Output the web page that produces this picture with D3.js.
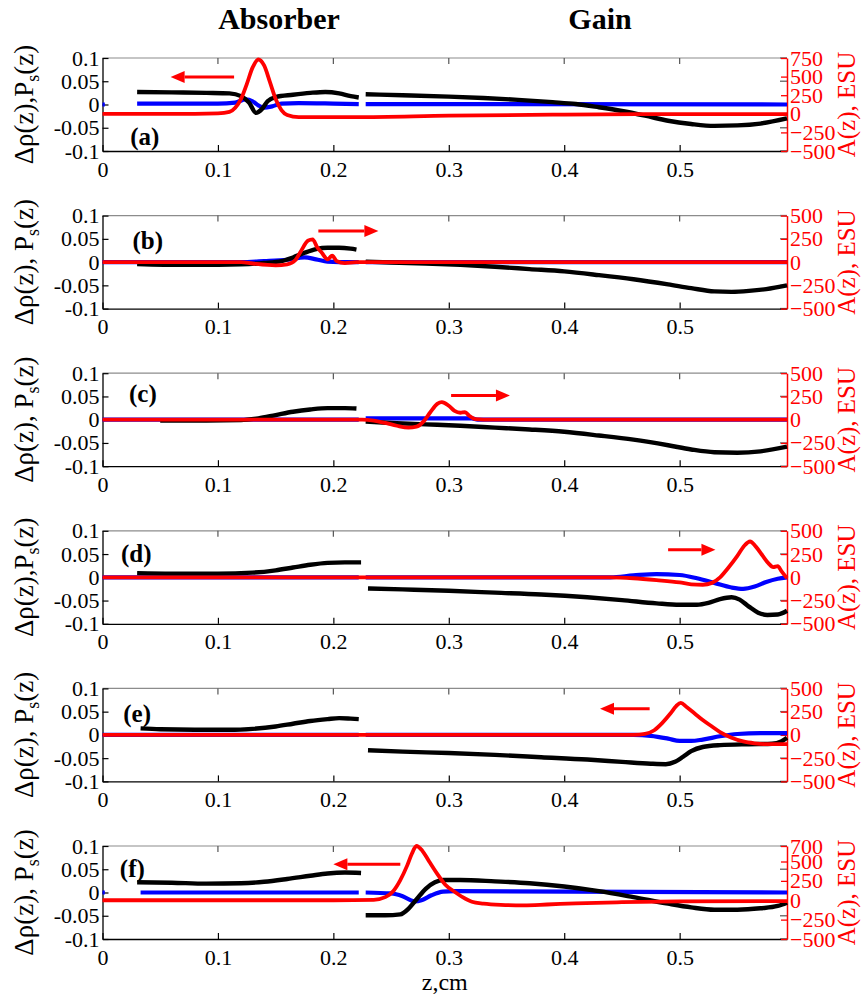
<!DOCTYPE html>
<html>
<head>
<meta charset="utf-8">
<script src="https://cdn.jsdelivr.net/npm/d3@7"></script>
</head>
<body style="margin:0;background:#fff">
<svg id="chart" width="864" height="995"></svg>
<script>
// ---- axis ticks -------------------------------------------------------
const zTicks = [0, 0.1, 0.2, 0.3, 0.4, 0.5];
const zTickLabels = ["0", "0.1", "0.2", "0.3", "0.4", "0.5"];
const leftTicks = [-0.1, -0.05, 0, 0.05, 0.1];
const leftTickLabels = ["-0.1", "-0.05", "0", "0.05", "0.1"];
const aTicks750 = [-500, -250, 0, 250, 500, 750];
const aTicks500 = [-500, -250, 0, 250, 500];
const aTicks700 = [-500, -250, 0, 250, 500, 700];

const panelNames = ["(a)", "(b)", "(c)", "(d)", "(e)", "(f)"];
const regionTitles = ["Absorber", "Gain"];

// ---- series: [z (cm), value]; null breaks the line ---------------------
// (a)
const rhoA = [[0.03,0.027],[0.06,0.026],[0.09,0.025],[0.11,0.024],[0.12,0.018],[0.127,0.004],[0.133,-0.018],[0.138,-0.01],[0.143,0.007],[0.15,0.016],[0.165,0.021],[0.18,0.025],[0.193,0.027],[0.205,0.024],[0.215,0.018],[0.222,0.015], null,
  [0.228,0.022],[0.26,0.02],[0.3,0.017],[0.33,0.014],[0.36,0.01],[0.39,0.005],[0.41,0.001],[0.43,-0.006],[0.45,-0.014],[0.47,-0.024],[0.49,-0.035],[0.51,-0.042],[0.53,-0.046],[0.55,-0.045],[0.57,-0.041],[0.593,-0.03]];
const psA = [[0,0],[0.002,0], null, [0.03,0.002],[0.1,0.002],[0.115,0.004],[0.124,0.011],[0.13,0.007],[0.135,-0.002],[0.14,-0.007],[0.147,-0.004],[0.155,0.002],[0.17,0.003],[0.2,0.002],[0.222,0.001], null,
  [0.228,0.001],[0.593,0]];
const ampA = [[0,0],[0.08,0],[0.1,5],[0.11,25],[0.115,80],[0.12,200],[0.125,400],[0.13,620],[0.135,730],[0.14,650],[0.145,430],[0.15,200],[0.155,50],[0.16,-15],[0.17,-45],[0.22,-45],[0.3,-25],[0.4,-10],[0.5,-5],[0.593,-5]];
// (b)
const rhoB = [[0.03,-0.004],[0.07,-0.006],[0.1,-0.006],[0.12,-0.005],[0.14,-0.002],[0.155,0.002],[0.165,0.01],[0.175,0.02],[0.185,0.028],[0.195,0.031],[0.205,0.031],[0.215,0.029],[0.22,0.027], null,
  [0.228,0.001],[0.25,-0.001],[0.28,-0.003],[0.31,-0.006],[0.34,-0.01],[0.37,-0.015],[0.4,-0.02],[0.43,-0.028],[0.46,-0.037],[0.49,-0.048],[0.51,-0.056],[0.53,-0.063],[0.545,-0.064],[0.56,-0.062],[0.575,-0.058],[0.593,-0.05]];
const psB = [[0,0],[0.12,0],[0.14,0.002],[0.16,0.005],[0.175,0.01],[0.185,0.006],[0.195,0.001],[0.205,0],[0.222,0], null, [0.228,0],[0.593,0]];
const ampB = [[0,0],[0.12,0],[0.13,-15],[0.15,-35],[0.16,-25],[0.167,20],[0.172,120],[0.178,230],[0.182,245],[0.186,160],[0.19,100],[0.195,30],[0.199,70],[0.203,10],[0.21,-10],[0.22,0],[0.593,0]];
// (c)
const rhoC = [[0.05,-0.002],[0.09,-0.002],[0.12,-0.001],[0.135,0.003],[0.15,0.01],[0.165,0.017],[0.18,0.022],[0.195,0.025],[0.21,0.025],[0.22,0.024], null,
  [0.228,-0.004],[0.25,-0.007],[0.28,-0.01],[0.31,-0.013],[0.34,-0.017],[0.37,-0.021],[0.4,-0.026],[0.43,-0.034],[0.46,-0.043],[0.49,-0.055],[0.51,-0.064],[0.53,-0.07],[0.55,-0.071],[0.57,-0.068],[0.593,-0.058]];
const psC = [[0,0],[0.222,0], null, [0.228,0.003],[0.32,0.003],[0.325,0],[0.593,0]];
const ampC = [[0,0],[0.225,0],[0.235,-10],[0.245,-35],[0.255,-65],[0.265,-85],[0.272,-75],[0.278,-20],[0.284,80],[0.29,170],[0.294,190],[0.3,150],[0.305,95],[0.31,75],[0.314,80],[0.318,40],[0.323,5],[0.33,0],[0.593,0]];
// (d)
const rhoD = [[0.03,0.009],[0.06,0.008],[0.1,0.008],[0.13,0.01],[0.15,0.015],[0.165,0.021],[0.18,0.027],[0.195,0.031],[0.21,0.032],[0.224,0.032], null,
  [0.23,-0.024],[0.26,-0.026],[0.3,-0.029],[0.34,-0.033],[0.38,-0.037],[0.42,-0.043],[0.45,-0.049],[0.48,-0.056],[0.5,-0.059],[0.515,-0.059],[0.525,-0.055],[0.535,-0.047],[0.545,-0.043],[0.552,-0.048],[0.56,-0.063],[0.568,-0.076],[0.576,-0.081],[0.585,-0.08],[0.593,-0.072]];
const psD = [[0,0],[0.222,0], null, [0.228,0],[0.44,0],[0.46,0.004],[0.48,0.007],[0.5,0.005],[0.515,-0.002],[0.53,-0.012],[0.545,-0.022],[0.555,-0.025],[0.565,-0.02],[0.575,-0.01],[0.585,-0.003],[0.593,0]];
const ampD = [[0,0],[0.44,0],[0.46,-10],[0.48,-30],[0.5,-55],[0.51,-75],[0.52,-80],[0.528,-60],[0.535,0],[0.542,100],[0.55,230],[0.556,340],[0.561,385],[0.566,330],[0.572,230],[0.577,150],[0.581,110],[0.585,120],[0.588,70],[0.593,-10]];
// (e)
const rhoE = [[0.033,0.014],[0.05,0.012],[0.08,0.011],[0.11,0.011],[0.13,0.013],[0.15,0.018],[0.165,0.024],[0.18,0.03],[0.195,0.034],[0.205,0.036],[0.215,0.035],[0.222,0.034], null,
  [0.23,-0.033],[0.26,-0.036],[0.3,-0.039],[0.34,-0.043],[0.38,-0.048],[0.42,-0.053],[0.45,-0.058],[0.475,-0.062],[0.488,-0.063],[0.496,-0.058],[0.503,-0.047],[0.51,-0.035],[0.52,-0.026],[0.535,-0.022],[0.56,-0.02],[0.58,-0.019],[0.588,-0.014],[0.593,-0.006]];
const psE = [[0,0],[0.222,0], null, [0.228,0],[0.46,0],[0.475,-0.002],[0.49,-0.008],[0.5,-0.013],[0.51,-0.013],[0.52,-0.01],[0.535,-0.003],[0.55,0.002],[0.57,0.004],[0.593,0.004]];
const ampE = [[0,0],[0.46,0],[0.47,10],[0.478,50],[0.485,130],[0.492,230],[0.497,310],[0.501,345],[0.506,300],[0.513,230],[0.52,160],[0.528,90],[0.535,30],[0.545,-30],[0.555,-70],[0.565,-90],[0.575,-100],[0.593,-100]];
// (f)
const rhoF = [[0.03,0.022],[0.06,0.021],[0.09,0.019],[0.12,0.02],[0.14,0.023],[0.16,0.029],[0.18,0.036],[0.195,0.041],[0.21,0.043],[0.224,0.042], null,
  [0.228,-0.049],[0.245,-0.049],[0.258,-0.047],[0.265,-0.035],[0.272,-0.015],[0.28,0.008],[0.288,0.022],[0.295,0.027],[0.31,0.027],[0.34,0.024],[0.37,0.02],[0.4,0.013],[0.43,0.003],[0.46,-0.01],[0.49,-0.024],[0.51,-0.032],[0.53,-0.037],[0.55,-0.037],[0.57,-0.034],[0.585,-0.029],[0.593,-0.022]];
const psF = [[0,0],[0.002,0], null, [0.033,0],[0.222,0], null, [0.228,0],[0.25,-0.002],[0.26,-0.008],[0.27,-0.019],[0.277,-0.016],[0.285,-0.006],[0.295,0.002],[0.305,0.003],[0.593,0]];
const ampF = [[0,0],[0.2,0],[0.235,5],[0.245,40],[0.252,120],[0.258,260],[0.264,450],[0.268,600],[0.272,700],[0.277,640],[0.283,500],[0.29,340],[0.297,200],[0.305,110],[0.312,40],[0.32,-20],[0.33,-45],[0.345,-60],[0.365,-65],[0.385,-55],[0.41,-40],[0.45,-25],[0.5,-15],[0.593,-10]];

// propagation arrows: [z start, z end, level on left axis]
const arrowsZ = [[0.114,0.059,0.059],[0.187,0.239,0.067],[0.302,0.353,0.052],[0.49,0.531,0.059],[0.474,0.431,0.056],[0.258,0.2,0.061]];
// panel tag anchors: [z, level on left axis]
const tagPos = [[0.024,-0.068],[0.026,0.047],[0.023,0.057],[0.016,0.052],[0.018,0.046],[0.015,0.052]];
const ampDomains = [[-500,750],[-500,500],[-500,500],[-500,500],[-500,500],[-500,700]];
const ampTickSets = [aTicks750, aTicks500, aTicks500, aTicks500, aTicks500, aTicks700];
const tightLabel = [true, false, false, true, false, false];

const rhoSeries = [rhoA, rhoB, rhoC, rhoD, rhoE, rhoF];
const psSeries = [psA, psB, psC, psD, psE, psF];
const ampSeries = [ampA, ampB, ampC, ampD, ampE, ampF];

// ---- layout ------------------------------------------------------------
const svg = d3.select("#chart");
const SERIF = "Liberation Serif";
const plotLeft = 102.5, plotRight = 787;
const firstTop = 58, panelStep = 157.6, panelH = 93;
const RED = "#ff0000", BLUE = "#0000ff";
const tickFont = 22;

const x = d3.scaleLinear().domain([0, 0.593]).range([plotLeft, plotRight]);

// region headings
svg.selectAll("text.region").data(regionTitles).join("text")
  .attr("class", "region")
  .attr("x", (d, i) => i === 0 ? 279 : 600)
  .attr("y", 18).attr("dy", "0.35em")
  .attr("text-anchor", "middle")
  .attr("font-weight", "bold").attr("font-size", 30)
  .text(d => d);

panelNames.forEach((name, i) => {
  const top = firstTop + i * panelStep, bottom = top + panelH;
  const y = d3.scaleLinear().domain([-0.1, 0.1]).range([bottom, top]);
  const yA = d3.scaleLinear().domain(ampDomains[i]).range([bottom, top]);
  const g = svg.append("g");

  // frame: top edge grey
  g.append("line").attr("x1", plotLeft).attr("x2", plotRight).attr("y1", top).attr("y2", top)
    .attr("stroke", "#8c8c8c").attr("stroke-width", 1.2);

  // mirrored ticks on top edge and right side
  g.selectAll("line.tt").data(zTicks.slice(1)).join("line")
    .attr("x1", d => x(d)).attr("x2", d => x(d)).attr("y1", top).attr("y2", top + 6)
    .attr("stroke", "#555").attr("stroke-width", 1.2);
  g.selectAll("line.rt").data(leftTicks).join("line")
    .attr("x1", plotRight - 7).attr("x2", plotRight).attr("y1", d => y(d)).attr("y2", d => y(d))
    .attr("stroke", "#777").attr("stroke-width", 1.5);

  // bottom axis (ticks inward)
  const xAxis = d3.axisBottom(x).tickValues(zTicks).tickFormat((d, k) => zTickLabels[k])
    .tickSizeInner(-6).tickSizeOuter(0).tickPadding(10);
  const gx = g.append("g").attr("transform", `translate(0,${bottom})`).call(xAxis);
  gx.attr("font-family", SERIF);
  gx.select(".domain").attr("stroke", "#000").attr("stroke-width", 1.3);
  gx.selectAll(".tick line").attr("stroke", "#000").attr("stroke-width", 1.2);
  gx.selectAll(".tick text").attr("font-size", tickFont).attr("fill", "#000");

  // left axis
  const yAxis = d3.axisLeft(y).tickValues(leftTicks).tickFormat((d, k) => leftTickLabels[k])
    .tickSizeInner(-6).tickSizeOuter(0).tickPadding(3);
  const gy = g.append("g").attr("transform", `translate(${plotLeft},0)`).call(yAxis);
  gy.attr("font-family", SERIF);
  gy.select(".domain").attr("stroke", "#000").attr("stroke-width", 1.3);
  gy.selectAll(".tick line").attr("stroke", "#000").attr("stroke-width", 1.2);
  gy.selectAll(".tick text").attr("font-size", tickFont).attr("fill", "#000");

  // right axis (red)
  const aAxis = d3.axisRight(yA).tickValues(ampTickSets[i]).tickFormat(d3.format("d"))
    .tickSizeInner(-6).tickSizeOuter(0).tickPadding(3);
  const ga = g.append("g").attr("transform", `translate(${plotRight},0)`).call(aAxis);
  ga.attr("font-family", SERIF);
  ga.select(".domain").attr("stroke", RED).attr("stroke-width", 1.5);
  ga.selectAll(".tick line").attr("stroke", RED).attr("stroke-width", 1.3);
  ga.selectAll(".tick text").attr("font-size", tickFont).attr("fill", RED);

  // curves
  const lineL = d3.line().defined(d => d !== null).x(d => x(d[0])).y(d => y(d[1])).curve(d3.curveMonotoneX);
  const lineA = d3.line().defined(d => d !== null).x(d => x(d[0])).y(d => yA(d[1])).curve(d3.curveMonotoneX);
  g.append("path").attr("d", lineL(psSeries[i])).attr("fill", "none")
    .attr("stroke", BLUE).attr("stroke-width", 4.2).attr("stroke-linejoin", "round");
  g.append("path").attr("d", lineL(rhoSeries[i])).attr("fill", "none")
    .attr("stroke", "#000").attr("stroke-width", 4.4).attr("stroke-linejoin", "round");
  g.append("path").attr("d", lineA(ampSeries[i])).attr("fill", "none")
    .attr("stroke", RED).attr("stroke-width", 3.8).attr("stroke-linejoin", "round");

  // propagation arrow
  const [z0, z1, lv] = arrowsZ[i];
  const ax0 = x(z0), ax1 = x(z1), ay = y(lv);
  const dir = Math.sign(ax1 - ax0);
  const headLen = 14, headHalf = 6;
  g.append("line").attr("x1", ax0).attr("x2", ax1 - dir * headLen).attr("y1", ay).attr("y2", ay)
    .attr("stroke", RED).attr("stroke-width", 3);
  g.append("path")
    .attr("d", `M${ax1},${ay}L${ax1 - dir * headLen},${ay - headHalf}L${ax1 - dir * headLen},${ay + headHalf}Z`)
    .attr("fill", RED);

  // panel tag
  g.append("text").attr("x", x(tagPos[i][0])).attr("y", y(tagPos[i][1])).attr("dy", "0.35em")
    .attr("font-weight", "bold").attr("font-size", 25).text(name);

  // left axis title
  const cy = (top + bottom) / 2;
  const lt = g.append("text").attr("transform", `translate(33,${cy}) rotate(-90)`)
    .attr("text-anchor", "middle").attr("font-size", 27).attr("fill", "#000");
  lt.append("tspan").text(tightLabel[i] ? "Δρ(z),P" : "Δρ(z), P");
  lt.append("tspan").attr("font-size", 18).attr("dy", 6).text("s");
  lt.append("tspan").attr("dy", -6).text("(z)");

  // right axis title
  g.append("text").attr("transform", `translate(855,${cy}) rotate(-90)`)
    .attr("text-anchor", "middle").attr("font-size", 25).attr("fill", RED)
    .text("A(z), ESU");
});

// shared horizontal axis title
svg.append("text").attr("x", (plotLeft + plotRight) / 2).attr("y", 982).attr("dy", "0.35em")
  .attr("text-anchor", "middle").attr("font-size", 24).text("z,cm");

// serif face on every label
svg.selectAll("text").attr("font-family", SERIF).style("font-family", SERIF);
</script>
</body>
</html>
